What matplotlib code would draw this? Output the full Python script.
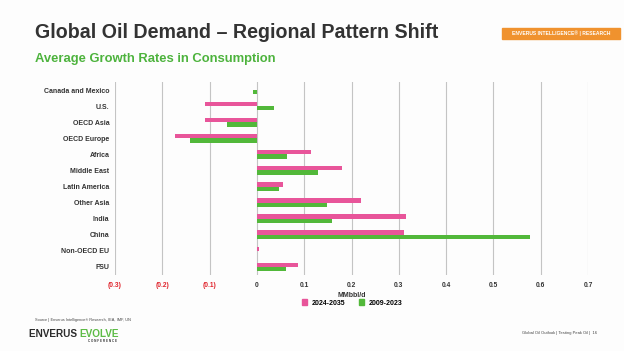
import matplotlib
matplotlib.use("Agg")
import matplotlib.pyplot as plt
import numpy as np
from matplotlib.patches import Rectangle, Patch

plt.rcParams['font.family'] = ['Liberation Sans', 'DejaVu Sans']

regions = ["Canada and Mexico", "U.S.", "OECD Asia", "OECD Europe", "Africa",
           "Middle East", "Latin America", "Other Asia", "India", "China",
           "Non-OECD EU", "FSU"]
growth_2024_2035 = [0.0, -0.109, -0.109, -0.173, 0.115, 0.180, 0.056, 0.221,
                    0.316, 0.312, 0.005, 0.087]
growth_2009_2023 = [-0.008, 0.037, -0.063, -0.141, 0.064, 0.130, 0.047, 0.149,
                    0.158, 0.577, 0.0, 0.062]
xticks = [-0.3, -0.2, -0.1, 0, 0.1, 0.2, 0.3, 0.4, 0.5, 0.6, 0.7]
xtick_labels = ["(0.3)", "(0.2)", "(0.1)", "0", "0.1", "0.2", "0.3", "0.4", "0.5", "0.6", "0.7"]
series_names = ["2024-2035", "2009-2023"]

PINK = "#E8559A"
GREEN = "#52B83A"
W, H = 624, 351

fig = plt.figure(figsize=(W / 100, H / 100), dpi=100)
fig.patch.set_facecolor("#FDFDFD")

ax = fig.add_axes([115 / W, 1 - 275 / H, (588 - 115) / W, (275 - 82) / H])
ax.set_facecolor("none")
y = np.arange(len(regions))
bh = 0.27
ax.barh(y - bh / 2, growth_2024_2035, height=bh, color=PINK, zorder=3)
ax.barh(y + bh / 2, growth_2009_2023, height=bh, color=GREEN, zorder=3)
ax.set_ylim(len(regions) - 0.5, -0.5)
ax.set_xlim(-0.3, 0.7)
ax.set_xticks(xticks)
ax.set_xticklabels(xtick_labels, fontsize=4.8, fontweight="bold")
for lab, v in zip(ax.get_xticklabels(), xticks):
    lab.set_color("#E0242C" if v < 0 else "#333333")
ax.set_yticks(y)
ax.set_yticklabels(regions, fontsize=5, fontweight="bold", color="#333333")
ax.tick_params(axis="both", length=0, pad=5)
ax.tick_params(axis="y", pad=4)
ax.grid(axis="x", color="#C4C4C4", linewidth=0.8, zorder=0)
for s in ax.spines.values():
    s.set_visible(False)
ax.set_xlabel("MMbbl/d", fontsize=5, fontweight="bold", color="#333333", labelpad=2)

handles = [Patch(color=PINK), Patch(color=GREEN)]
fig.legend(handles, series_names, loc="center", bbox_to_anchor=(352 / W, 1 - 303 / H),
           ncol=2, frameon=False, handlelength=0.8, handleheight=0.8,
           columnspacing=2.0, handletextpad=0.6,
           prop={"weight": "bold", "size": 5})

# Titles
fig.text(35 / W, 1 - 33 / H, "Global Oil Demand \u2013 Regional Pattern Shift",
         fontsize=14.1, fontweight="bold", color="#333333", va="center", ha="left")
fig.text(35 / W, 1 - 59 / H, "Average Growth Rates in Consumption",
         fontsize=9.4, fontweight="bold", color="#4DB33D", va="center", ha="left")

# Badge
fig.patches.append(Rectangle((502 / W, 1 - 39 / H), 118 / W, 11 / H,
                             transform=fig.transFigure, color="#F0922E", zorder=1))
fig.text(561 / W, 1 - 33.5 / H, "ENVERUS INTELLIGENCE\u00ae | RESEARCH",
         fontsize=3.6, fontweight="bold", color="white", ha="center", va="center")

# Footer
fig.text(35 / W, 1 - 320 / H, "Source | Enverus Intelligence\u00ae Research, IEA, IMF, UN",
         fontsize=2.8, color="#444444", ha="left", va="center")
t1 = fig.text(29 / W, 1 - 334 / H, "ENVERUS ", fontsize=7.2, fontweight="bold",
              color="#2B2B2B", ha="left", va="center")
fig.canvas.draw()
bb = t1.get_window_extent()
fig.text(bb.x1 / W, 1 - 334 / H, "EVOLVE", fontsize=7.2, fontweight="bold",
         color="#5DBB46", ha="left", va="center")
fig.text(88 / W, 1 - 341 / H, "C O N F E R E N C E", fontsize=2.2, fontweight="bold",
         color="#333333", ha="left", va="center")
fig.text(597 / W, 1 - 333 / H, "Global Oil Outlook | Testing Peak Oil |  16",
         fontsize=3, color="#444444", ha="right", va="center")

fig.savefig("out.png", dpi=100, facecolor=fig.get_facecolor())
